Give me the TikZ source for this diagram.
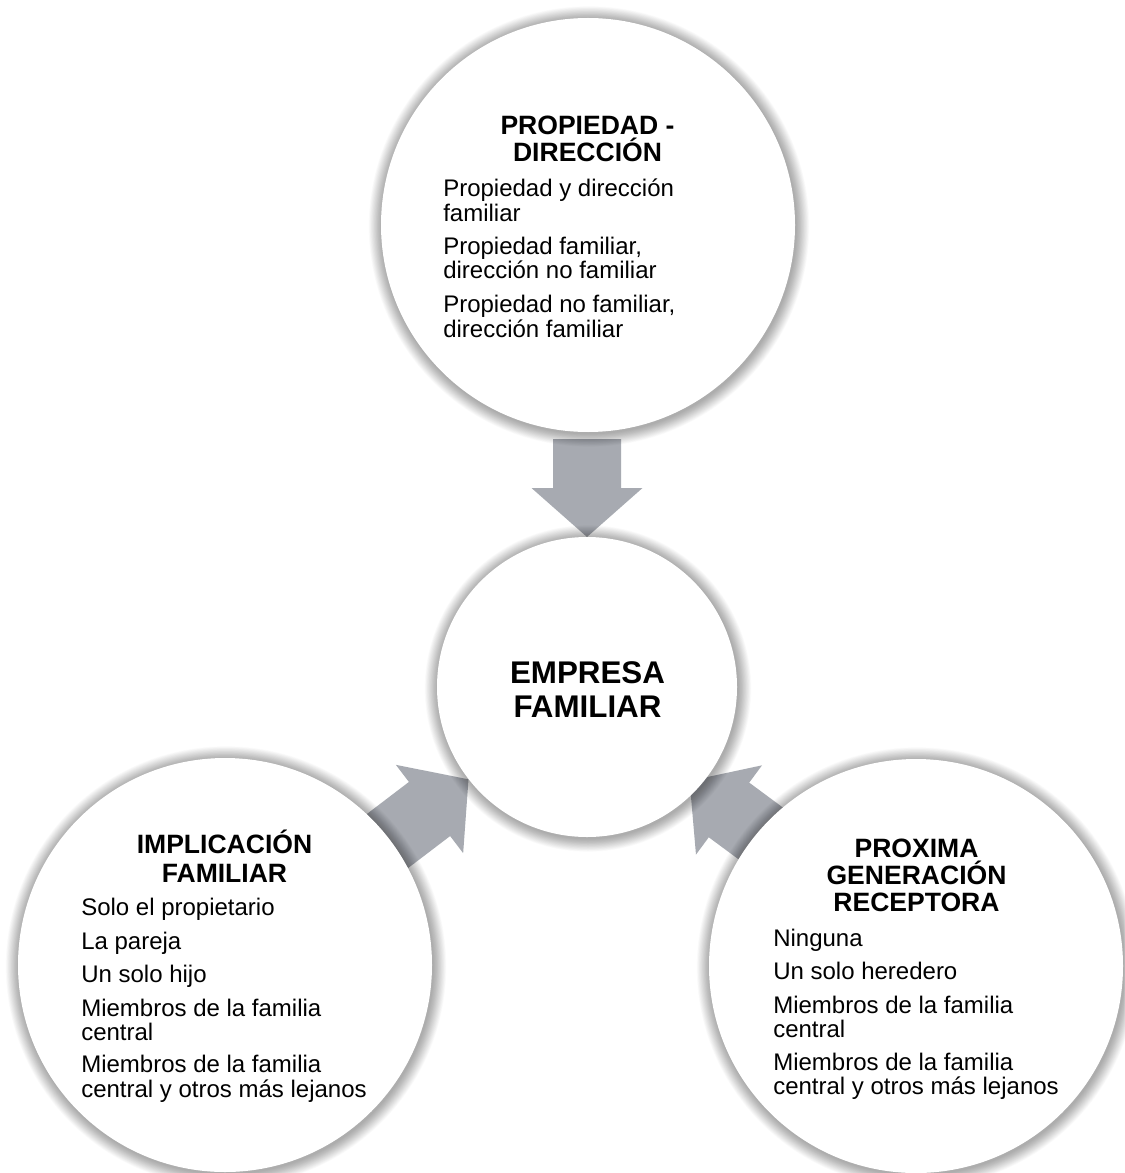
\documentclass[tikz,border=0pt]{standalone}
\usepackage{fontspec}
\setmainfont{Liberation Sans}
\definecolor{arrowgray}{RGB}{167,170,177}
\begin{document}
\begin{tikzpicture}[x=0.75pt,y=-0.75pt,
  disc/.style={circle, fill=white, draw=none, inner sep=0pt},
  bigdisc/.style={disc, minimum size=310.5pt},
  coredisc/.style={disc, minimum size=225pt},
  heading/.style={font=\bfseries\fontsize{19.9}{20}\selectfont, anchor=base, inner sep=0pt},
  bodytext/.style={font=\fontsize{18}{18}\selectfont, anchor=base west, inner sep=0pt},
  coretext/.style={font=\bfseries\fontsize{23.5}{24}\selectfont, anchor=base, inner sep=0pt},
  pics/blockarrow/.style={code={
    \fill[arrowgray] (0,0) -- (-49,-55.5) -- (-49,-34) -- (-#1,-34)
      -- (-#1,34) -- (-49,34) -- (-49,55.5) -- cycle;}}
]
% canvas
\fill[white] (0,0) rectangle (1124,1173);
\path[use as bounding box] (0,0) rectangle (1124,1173);

% soft outer shadow under a disc: centre x, centre y, radius (px)
\newcommand\discshadow[3]{%
  \foreach \k in {1,...,22}{%
    \fill[black, opacity=0.014] (#1+1,#2+1.5) circle[radius=#3+\k*0.6];}}

% arrow tips
\coordinate (tipT) at (587,537);
\coordinate (tipL) at (468.5,779.3);
\coordinate (tipR) at (689.6,780.8);

% block arrows converging on the core (angles measured counter-clockwise on the page)
\pic[rotate=-90] at (tipT) {blockarrow=98};
\pic[rotate=37.3] at (tipL) {blockarrow=120};
\pic[rotate=143.5] at (tipR) {blockarrow=120};

% discs
\discshadow{588}{225}{207}
\node[bigdisc] (own) at (588,225) {};
\discshadow{587}{687}{150}
\node[coredisc] (core) at (587,687) {};
\discshadow{225}{965}{207}
\node[bigdisc] (inv) at (225,965) {};
\discshadow{916}{966}{207}
\node[bigdisc] (gen) at (916,966) {};

% core label
\node[coretext] (core1) at (587.5,683) {EMPRESA};
\node[coretext] (core2) at (587.5,717) {FAMILIAR};

% ownership / management
\node[heading] (ownh1) at (587.5,135) {PROPIEDAD -};
\node[heading] (ownh2) at (587.5,162) {DIRECCIÓN};
\node[bodytext] (own1) at (443,197) {Propiedad y dirección};
\node[bodytext] (own2) at (443,221.5) {familiar};
\node[bodytext] (own3) at (443,254) {Propiedad familiar,};
\node[bodytext] (own4) at (443,278.5) {dirección no familiar};
\node[bodytext] (own5) at (443,312.5) {Propiedad no familiar,};
\node[bodytext] (own6) at (443,337) {dirección familiar};

% family involvement
\node[heading] (invh1) at (224.5,853.5) {IMPLICACIÓN};
\node[heading] (invh2) at (224.5,882) {FAMILIAR};
\node[bodytext] (inv1) at (81,915) {Solo el propietario};
\node[bodytext] (inv2) at (81,949) {La pareja};
\node[bodytext] (inv3) at (81,982) {Un solo hijo};
\node[bodytext] (inv4) at (81,1016) {Miembros de la familia};
\node[bodytext] (inv5) at (81,1040) {central};
\node[bodytext] (inv6) at (81,1072) {Miembros de la familia};
\node[bodytext] (inv7) at (81,1097) {central y otros más lejanos};

% next generation
\node[heading] (genh1) at (916.5,857) {PROXIMA};
\node[heading] (genh2) at (916.5,884) {GENERACIÓN};
\node[heading] (genh3) at (916.5,911) {RECEPTORA};
\node[bodytext] (gen1) at (773,946) {Ninguna};
\node[bodytext] (gen2) at (773,979) {Un solo heredero};
\node[bodytext] (gen3) at (773,1013) {Miembros de la familia};
\node[bodytext] (gen4) at (773,1037) {central};
\node[bodytext] (gen5) at (773,1070) {Miembros de la familia};
\node[bodytext] (gen6) at (773,1094) {central y otros más lejanos};
\end{tikzpicture}
\end{document}
